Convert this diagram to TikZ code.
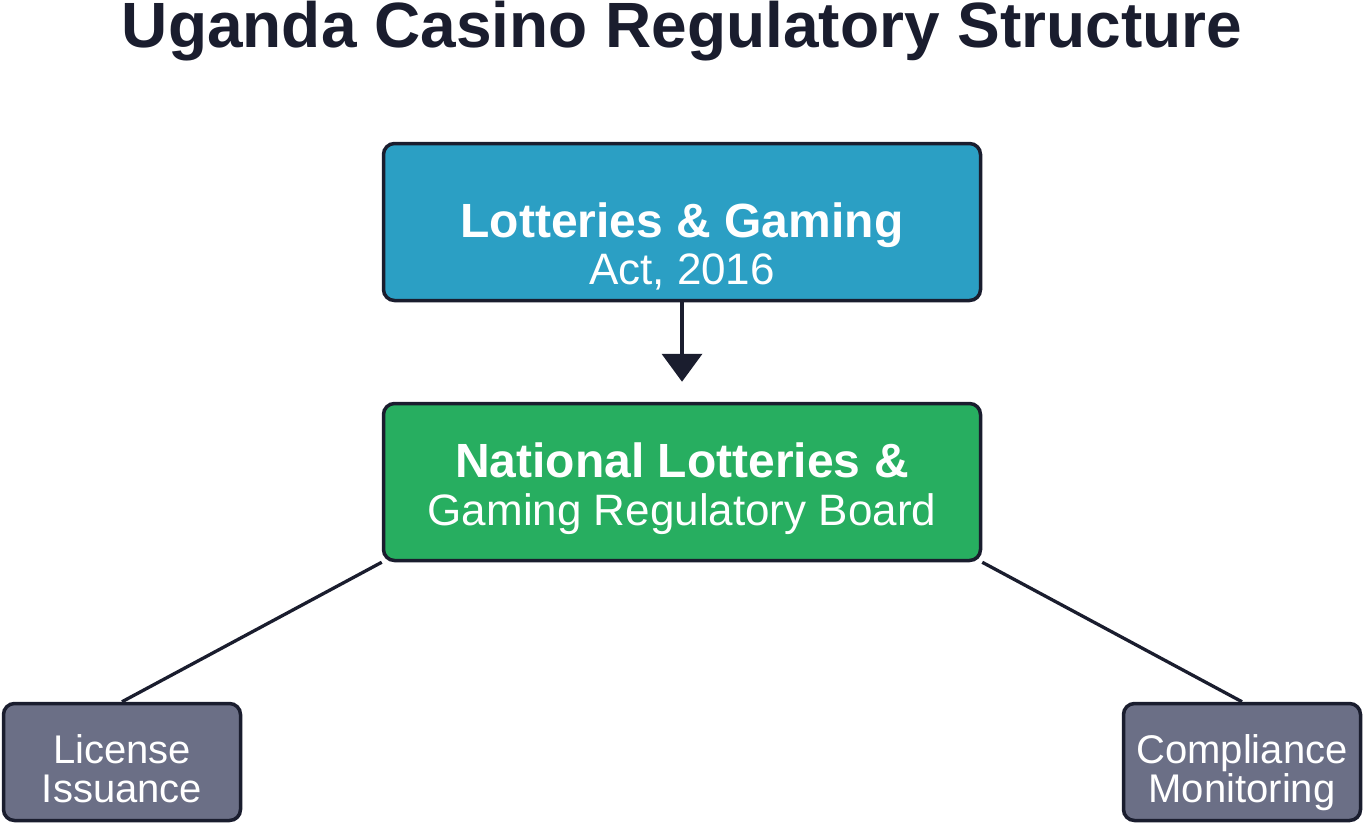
\documentclass[tikz,border=0pt]{standalone}
\usepackage{fontspec}
\setmainfont{Liberation Sans}
\usetikzlibrary{arrows.meta}
\definecolor{ink}{HTML}{1A1D2E}
\definecolor{actblue}{HTML}{2B9FC4}
\definecolor{boardgreen}{HTML}{27AE60}
\definecolor{subgray}{HTML}{6B6F86}
\tikzset{
  box/.style={draw=ink, line width=3.5pt, rounded corners=11pt, inner sep=0pt},
  bigbox/.style={box, minimum width=597pt, minimum height=157pt},
  smallbox/.style={box, fill=subgray, minimum width=237pt, minimum height=117pt},
  boldtxt/.style={text=white, anchor=base, inner sep=0pt, font=\fontsize{48}{48}\selectfont\bfseries},
  regtxt/.style={text=white, anchor=base, inner sep=0pt, font=\fontsize{44}{44}\selectfont},
  smalltxt/.style={text=white, anchor=base, inner sep=0pt, font=\fontsize{40}{40}\selectfont},
  conn/.style={draw=ink, line width=3.3pt},
}
\begin{document}
\begin{tikzpicture}[x=1pt,y=-1pt]
\useasboundingbox (0,0) rectangle (1364,824);
\node[text=ink, anchor=base, inner sep=0pt, font=\fontsize{64}{64}\selectfont\bfseries] (title) at (682,48) {Uganda Casino Regulatory Structure};

\node[bigbox, fill=actblue] (act) at (682,222) {};
\node[boldtxt] (actA) at (682,237) {Lotteries \& Gaming};
\node[regtxt] (actB) at (682,284) {Act, 2016};

\node[bigbox, fill=boardgreen] (board) at (682,482) {};
\node[boldtxt] (boardA) at (682,477) {National Lotteries \&};
\node[regtxt] (boardB) at (682,525) {Gaming Regulatory Board};

\node[smallbox] (lic) at (122,762) {};
\node[smalltxt] (licA) at (122,763) {License};
\node[smalltxt] (licB) at (122,802) {Issuance};

\node[smallbox] (comp) at (1242,762) {};
\node[smalltxt] (compA) at (1242,763) {Compliance};
\node[smalltxt] (compB) at (1242,802) {Monitoring};

\draw[draw=ink, line width=4pt, -{Triangle[width=40pt,length=28pt]}, shorten >=20pt] (act.south) -- (board.north);
\draw[conn] (board.south west) -- (lic.north);
\draw[conn] (board.south east) -- (comp.north);
\end{tikzpicture}
\end{document}
